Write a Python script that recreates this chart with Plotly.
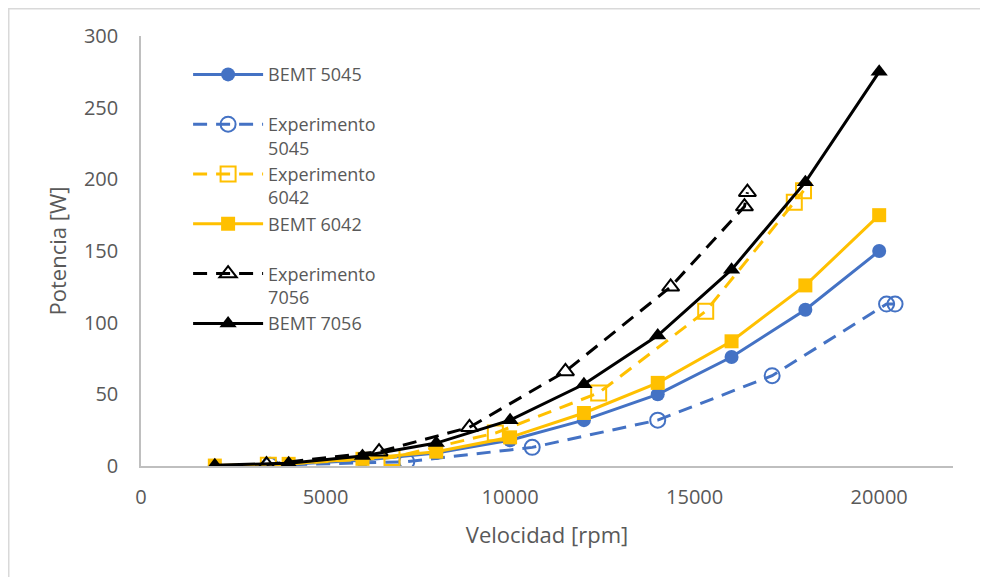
import plotly.graph_objects as go

# BEMT series (rpm)
bemt_rpm = [2000, 4000, 6000, 8000, 10000, 12000, 14000, 16000, 18000, 20000]
bemt_5045 = [0.2, 1.2, 4, 9, 18, 32, 50, 76, 109, 150]
bemt_6042 = [0.3, 1.5, 5, 10, 20, 37, 58, 87, 126, 175]
bemt_7056 = [0.5, 2, 7, 16, 32, 57, 91, 137, 198, 275]

# Experimental series
exp5045_rpm = [3500, 7200, 10600, 14000, 17100, 20200, 20430]
exp5045_pw = [0.5, 3, 13, 32, 63, 113, 113]
exp6042_rpm = [3450, 6800, 9600, 12400, 15300, 17700, 17950]
exp6042_pw = [0.6, 6, 23, 51, 108, 184, 192]
exp7056_rpm = [3400, 6450, 8900, 11500, 14350, 16350, 16430]
exp7056_pw = [1, 10, 27, 66, 125, 181, 191]

BLUE = "#4472C4"
YELLOW = "#FFC000"
BLACK = "#000000"
DASH = "14px,9px"
FONT = "Open Sans, sans-serif"
GREY = "#595959"

fig = go.Figure()
fig.add_trace(go.Scatter(x=bemt_rpm, y=bemt_5045, name="BEMT 5045<br> ", mode="lines+markers",
                         line=dict(color=BLUE, width=3),
                         marker=dict(symbol="circle", size=14, color=BLUE)))
fig.add_trace(go.Scatter(x=exp5045_rpm, y=exp5045_pw, name="Experimento<br>5045", mode="lines+markers",
                         line=dict(color=BLUE, width=3, dash=DASH),
                         marker=dict(symbol="circle-open", size=15, color=BLUE, line=dict(width=2))))
fig.add_trace(go.Scatter(x=exp6042_rpm, y=exp6042_pw, name="Experimento<br>6042", mode="lines+markers",
                         line=dict(color=YELLOW, width=3, dash=DASH),
                         marker=dict(symbol="square-open", size=15, color=YELLOW, line=dict(width=2))))
fig.add_trace(go.Scatter(x=bemt_rpm, y=bemt_6042, name="BEMT 6042<br> ", mode="lines+markers",
                         line=dict(color=YELLOW, width=3),
                         marker=dict(symbol="square", size=14, color=YELLOW)))
fig.add_trace(go.Scatter(x=exp7056_rpm, y=exp7056_pw, name="Experimento<br>7056", mode="lines+markers",
                         line=dict(color=BLACK, width=3, dash=DASH),
                         marker=dict(symbol="triangle-up-open", size=15, color=BLACK, line=dict(width=2))))
fig.add_trace(go.Scatter(x=bemt_rpm, y=bemt_7056, name="BEMT 7056", mode="lines+markers",
                         line=dict(color=BLACK, width=3),
                         marker=dict(symbol="triangle-up", size=15, color=BLACK)))

axis_font = dict(family=FONT, size=20, color=GREY)
title_font = dict(family=FONT, size=22, color=GREY)

L, T, PW, PH = 133, 28, 812, 430

fig.update_layout(
    width=988, height=577,
    margin=dict(l=L, r=988 - L - PW, t=T, b=577 - T - PH),
    paper_bgcolor="white", plot_bgcolor="white",
    font=dict(family=FONT, color=GREY),
    showlegend=True,
    legend=dict(x=0.058, y=0.953, xanchor="left", yanchor="top", valign="top",
                font=dict(family=FONT, size=18, color=GREY),
                bgcolor="rgba(0,0,0,0)", tracegroupgap=0, itemwidth=70),
    xaxis=dict(range=[0, 22000], tickvals=[0, 5000, 10000, 15000, 20000],
               ticktext=["0", "5000", "10000", "15000", "20000"],
               showgrid=False, zeroline=False, showline=True, linecolor="#BFBFBF", linewidth=1.5,
               ticks="", tickfont=axis_font, ticklabelstandoff=12,
               title=dict(text="Velocidad [rpm]", font=title_font, standoff=19)),
    yaxis=dict(range=[0, 300], tickvals=[0, 50, 100, 150, 200, 250, 300],
               showgrid=False, zeroline=False, showline=True, linecolor="#BFBFBF", linewidth=1.5,
               ticks="", tickfont=axis_font, ticklabelstandoff=17,
               title=dict(text="Potencia [W]", font=title_font, standoff=11)),
    shapes=[dict(type="rect", xref="paper", yref="paper",
                 x0=(0.75 - L) / PW, x1=(1000 - L) / PW,
                 y0=-0.5, y1=(PH + T - 0.75) / PH,
                 line=dict(color="#D9D9D9", width=1.5), fillcolor="rgba(0,0,0,0)", layer="below")],
)

fig.write_html("out.html")
